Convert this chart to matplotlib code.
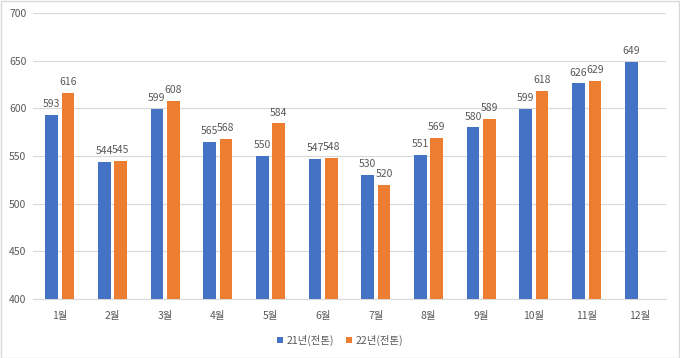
import matplotlib
matplotlib.use("Agg")
import matplotlib.pyplot as plt
from matplotlib.patches import Rectangle
import numpy as np

plt.rcParams['font.family'] = ['Noto Sans CJK KR', 'DejaVu Sans']

months = ["1월", "2월", "3월", "4월", "5월", "6월", "7월", "8월", "9월", "10월", "11월", "12월"]
s21 = [593, 544, 599, 565, 550, 547, 530, 551, 580, 599, 626, 649]
s22 = [616, 545, 608, 568, 584, 548, 520, 569, 589, 618, 629, None]
label21 = "21년(전톤)"
label22 = "22년(전톤)"
yticks = [400, 450, 500, 550, 600, 650, 700]

blue = "#4472C4"
orange = "#ED7D31"
txt = "#595959"

fig = plt.figure(figsize=(6.8, 3.58), dpi=100)
fig.patches.append(Rectangle((0.001, 0.001), 0.997, 0.996, transform=fig.transFigure,
                             fill=False, edgecolor="#d9d9d9", linewidth=1.0))
ax = fig.add_axes([0.049, 0.165, 0.930, 0.799])

x = np.arange(len(months))
w = 0.24
gap = 0.07
x21 = x - (w + gap) / 2
x22 = x + (w + gap) / 2
v22 = [np.nan if v is None else v for v in s22]
b1 = ax.bar(x21, [v - 400 for v in s21], w, bottom=400, color=blue, label=label21, zorder=3)
b2 = ax.bar(x22, [v - 400 for v in v22], w, bottom=400, color=orange, label=label22, zorder=3)

for xi, v in zip(x21, s21):
    ax.text(xi, v + 6, str(v), ha="center", va="bottom", fontsize=7.5, color=txt)
for xi, v in zip(x22, s22):
    if v is not None:
        ax.text(xi, v + 6, str(v), ha="center", va="bottom", fontsize=7.5, color=txt)

ax.set_ylim(400, 700)
ax.set_xlim(-0.5, len(months) - 0.5)
ax.set_yticks(yticks)
ax.set_xticks(x)
ax.set_xticklabels(months)
ax.tick_params(axis="both", length=0, labelsize=7.5, colors=txt)
ax.tick_params(axis="x", pad=9)
ax.tick_params(axis="y", pad=5)
ax.grid(axis="y", color="#d9d9d9", linewidth=0.8, zorder=0)
for s in ["top", "right", "left"]:
    ax.spines[s].set_visible(False)
ax.spines["bottom"].set_color("#d9d9d9")

fig.legend(handles=[b1, b2], labels=[label21, label22], loc="center",
           bbox_to_anchor=(0.5, 0.05), ncol=2, frameon=False, fontsize=7.5,
           labelcolor=txt, handlelength=0.6, handleheight=0.6, handletextpad=0.3,
           columnspacing=1.2)

fig.savefig("out.png", dpi=100)
